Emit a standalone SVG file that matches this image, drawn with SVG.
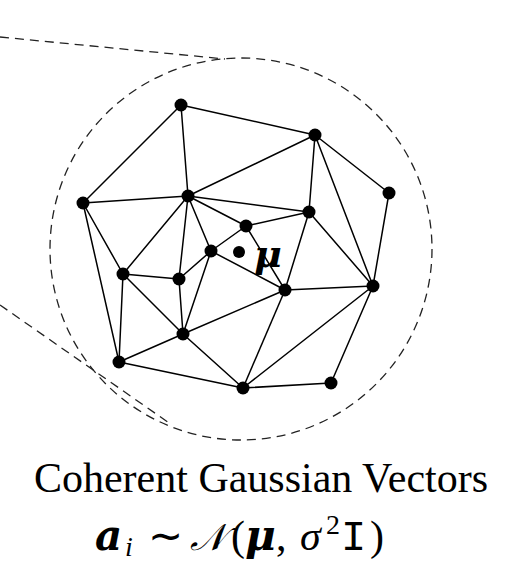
<svg xmlns="http://www.w3.org/2000/svg" width="514" height="573" viewBox="0 0 514 573">
<style>
.edge{stroke:#000;stroke-width:1.5;fill:none;stroke-linecap:round}
.dash{stroke:#222;stroke-width:1.3;fill:none;stroke-dasharray:9 6}
.node{fill:#000}
.cap{font-family:"Liberation Serif",serif;font-size:42px;fill:#000}
.bi{font-family:"DejaVu Serif","Liberation Serif",serif;font-weight:bold;font-style:italic}
.it{font-family:"Liberation Serif",serif;font-style:italic}
.mono{font-family:"Liberation Mono",monospace}
</style>
<rect width="514" height="573" fill="#fff"/>
<g id="guides">
<circle class="dash" cx="241" cy="249" r="191"/>
<line class="dash" x1="0" y1="37" x2="225" y2="59"/>
<line class="dash" x1="0" y1="305" x2="172" y2="425"/>
</g>
<g id="connectors">
<line class="edge" x1="181" y1="105" x2="315" y2="135"/>
<line class="edge" x1="181" y1="105" x2="83" y2="203"/>
<line class="edge" x1="181" y1="105" x2="188" y2="196"/>
<line class="edge" x1="315" y1="135" x2="188" y2="196"/>
<line class="edge" x1="315" y1="135" x2="309" y2="212"/>
<line class="edge" x1="315" y1="135" x2="389" y2="193"/>
<line class="edge" x1="315" y1="135" x2="373" y2="286"/>
<line class="edge" x1="389" y1="193" x2="373" y2="286"/>
<line class="edge" x1="83" y1="203" x2="188" y2="196"/>
<line class="edge" x1="83" y1="203" x2="123" y2="274"/>
<line class="edge" x1="83" y1="203" x2="119" y2="362"/>
<line class="edge" x1="188" y1="196" x2="309" y2="212"/>
<line class="edge" x1="188" y1="196" x2="246" y2="226"/>
<line class="edge" x1="188" y1="196" x2="211" y2="251"/>
<line class="edge" x1="188" y1="196" x2="179" y2="279"/>
<line class="edge" x1="188" y1="196" x2="123" y2="274"/>
<line class="edge" x1="309" y1="212" x2="246" y2="226"/>
<line class="edge" x1="309" y1="212" x2="285" y2="290"/>
<line class="edge" x1="309" y1="212" x2="373" y2="286"/>
<line class="edge" x1="246" y1="226" x2="211" y2="251"/>
<line class="edge" x1="246" y1="226" x2="285" y2="290"/>
<line class="edge" x1="211" y1="251" x2="179" y2="279"/>
<line class="edge" x1="211" y1="251" x2="285" y2="290"/>
<line class="edge" x1="211" y1="251" x2="183" y2="334"/>
<line class="edge" x1="123" y1="274" x2="179" y2="279"/>
<line class="edge" x1="123" y1="274" x2="183" y2="334"/>
<line class="edge" x1="123" y1="274" x2="119" y2="362"/>
<line class="edge" x1="179" y1="279" x2="183" y2="334"/>
<line class="edge" x1="285" y1="290" x2="183" y2="334"/>
<line class="edge" x1="285" y1="290" x2="373" y2="286"/>
<line class="edge" x1="285" y1="290" x2="243" y2="388"/>
<line class="edge" x1="373" y1="286" x2="243" y2="388"/>
<line class="edge" x1="373" y1="286" x2="331" y2="383"/>
<line class="edge" x1="183" y1="334" x2="119" y2="362"/>
<line class="edge" x1="183" y1="334" x2="243" y2="388"/>
<line class="edge" x1="119" y1="362" x2="243" y2="388"/>
<line class="edge" x1="243" y1="388" x2="331" y2="383"/>
</g>
<g id="nA"><circle class="node" cx="181" cy="105" r="6.5"/></g>
<g id="nB"><circle class="node" cx="315" cy="135" r="6.5"/></g>
<g id="nC"><circle class="node" cx="389" cy="193" r="6.5"/></g>
<g id="nD"><circle class="node" cx="83" cy="203" r="6.5"/></g>
<g id="nE"><circle class="node" cx="188" cy="196" r="6.5"/></g>
<g id="nF"><circle class="node" cx="309" cy="212" r="6.5"/></g>
<g id="nG"><circle class="node" cx="246" cy="226" r="6.5"/></g>
<g id="nH"><circle class="node" cx="211" cy="251" r="6.5"/></g>
<g id="nI"><circle class="node" cx="123" cy="274" r="6.5"/></g>
<g id="nJ"><circle class="node" cx="179" cy="279" r="6.5"/></g>
<g id="nK"><circle class="node" cx="285" cy="290" r="6.5"/></g>
<g id="nL"><circle class="node" cx="373" cy="286" r="6.5"/></g>
<g id="nM"><circle class="node" cx="183" cy="334" r="6.5"/></g>
<g id="nN"><circle class="node" cx="119" cy="362" r="6.5"/></g>
<g id="nO"><circle class="node" cx="243" cy="388" r="6.5"/></g>
<g id="nP"><circle class="node" cx="331" cy="383" r="6.5"/></g>
<g id="mean">
<circle class="node" cx="239" cy="252" r="6"/>
<text class="bi" x="254" y="267" font-size="38">μ</text>
</g>
<g id="caption">
<text class="cap" x="261" y="492" text-anchor="middle" font-size="42.7">Coherent Gaussian Vectors</text>
<text class="cap" y="550"><tspan class="bi" x="95">a</tspan><tspan class="it" x="125" y="556" font-size="28">i</tspan><tspan x="148" y="550">∼</tspan><tspan class="it" x="190" font-size="37">𝒩</tspan><tspan x="231" font-size="42">(</tspan><tspan class="bi" x="245">μ</tspan><tspan x="276">,</tspan><tspan class="it" x="300">σ</tspan><tspan x="326" y="534" font-size="28">2</tspan><tspan class="mono" x="341" y="550">I</tspan><tspan x="370">)</tspan></text>
</g>
</svg>
